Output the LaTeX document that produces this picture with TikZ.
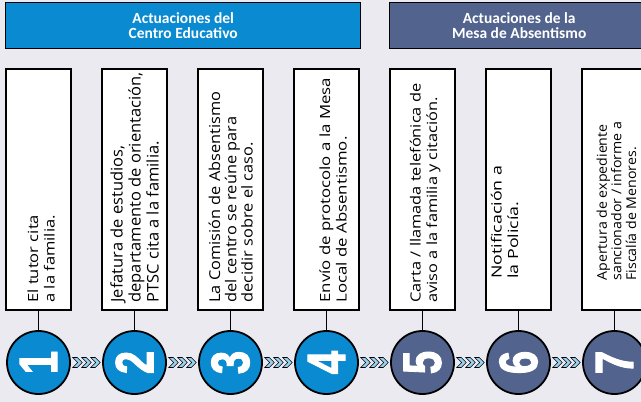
\documentclass[tikz,border=0pt]{standalone}
\usepackage{fontspec}
\usepackage{graphicx}
\setmainfont{Open Sans}
\newfontfamily\headfont{Carlito}
\newfontfamily\numfont{Liberation Sans Bold}[FakeBold=2]
\usetikzlibrary{positioning,calc}

\definecolor{ceblue}{HTML}{0A8AD0}
\definecolor{mesablue}{HTML}{52648E}
\definecolor{bggray}{HTML}{EBEAF0}
\definecolor{chevblue}{HTML}{9AD3F2}

\tikzset{
    chevs/.pic={
        \foreach \k in {-1,0,1}
            \filldraw[fill=chevblue, draw=black, line width=0.6pt]
                ({9*\k-4.75},-5) -- ++(4.5,0) -- ++(5,5) -- ++(-5,5) -- ++(-4.5,0) -- ++(5,-5) -- cycle;
    }
}
\newcommand{\stepnum}[1]{\rotatebox{90}{\scalebox{0.78}[1]{#1}}}
\newcommand{\steplines}[2]{\scalebox{#1}[1]{\begin{tabular}{@{}l@{}}#2\end{tabular}}}

\begin{document}
\begin{tikzpicture}[x=1pt,y=-1pt,
    header/.style={draw=black, line width=1.4pt, inner sep=0pt, minimum height=46pt, anchor=north west,
        text=white, align=center, font=\headfont\bfseries\fontsize{15.5}{15.5}\selectfont},
    stepbox/.style={draw=black, fill=white, line width=1.4pt, minimum width=65pt, minimum height=241pt, inner sep=0pt},
    steptext/.style={rotate=90, anchor=west, inner sep=0pt, font=\fontsize{14}{16.5}\selectfont},
    stepcirc/.style={circle, draw=black, line width=1.8pt, minimum size=63pt, inner sep=0pt, text=white, font=\numfont\fontsize{54}{54}\selectfont},
    link/.style={draw=black, line width=1.4pt}]

    \fill[bggray] (0,0) rectangle (641,402);
    \useasboundingbox (0,0) rectangle (641,402);
    \clip (0,0) rectangle (641,402);

    % headers
    \node[header, fill=ceblue, minimum width=355pt] (centro) at (5,2) {Actuaciones del\\Centro Educativo};
    \node[header, fill=mesablue, minimum width=259pt] (mesa) at (389,2) {Actuaciones de la\\Mesa de Absentismo};

    % step boxes
    \node[stepbox] (box1) at (38.5,189.5) {};
    \node[stepbox] (box2) at (134.5,189.5) {};
    \node[stepbox] (box3) at (230.5,189.5) {};
    \node[stepbox] (box4) at (326.5,189.5) {};
    \node[stepbox] (box5) at (422.5,189.5) {};
    \node[stepbox] (box6) at (518.5,189.5) {};
    \node[stepbox] (box7) at (614.5,189.5) {};

    % texts
    \node[steptext] (txt1) at ($(box1.south)+(4.5,-8)$) {\steplines{1.18}{El tutor cita\\a la familia.}};
    \node[steptext, font=\fontsize{16}{18}\selectfont] (txt2) at ($(box2.south)+(2.5,-8)$) {\steplines{1.03}{Jefatura de estudios,\\departamento de orientación,\\PTSC cita a la familia.}};
    \node[steptext, font=\fontsize{15}{16}\selectfont] (txt3) at ($(box3.south)+(2.5,-8)$) {\steplines{1.09}{La Comisión de Absentismo\\del centro se reúne para\\decidir sobre el caso.}};
    \node[steptext] (txt4) at ($(box4.south)+(8.5,-8)$) {\steplines{1.2}{Envío de protocolo a la Mesa\\Local de Absentismo.}};
    \node[steptext] (txt5) at ($(box5.south)+(3,-8)$) {\steplines{1.17}{Carta / llamada telefónica de\\aviso a la familia y citación.}};
    \node[steptext] (txt6) at ($(box6.south)+(-12,-32)$) {\steplines{1.27}{Notificación a\\la Policía.}};
    \node[steptext, font=\fontsize{13.5}{14.5}\selectfont] (txt7) at ($(box7.south)+(4,-30)$) {\steplines{1.05}{Apertura de expediente\\sancionador / informe a\\Fiscalía de Menores.}};

    % numbered circles
    \node[stepcirc, fill=ceblue] (num1) at (38.5,362.5) {\stepnum{1}};
    \node[stepcirc, fill=ceblue] (num2) at (134.5,362.5) {\stepnum{2}};
    \node[stepcirc, fill=ceblue] (num3) at (230.5,362.5) {\stepnum{3}};
    \node[stepcirc, fill=ceblue] (num4) at (326.5,362.5) {\stepnum{4}};
    \node[stepcirc, fill=mesablue] (num5) at (422.5,362.5) {\stepnum{5}};
    \node[stepcirc, fill=mesablue] (num6) at (518.5,362.5) {\stepnum{6}};
    \node[stepcirc, fill=mesablue] (num7) at (614.5,362.5) {\stepnum{7}};

    % links and chevrons
    \foreach \i in {1,...,7}
        \draw[link] (box\i.south) -- (num\i.north);
    \foreach \i/\j in {1/2,2/3,3/4,4/5,5/6,6/7}
        \pic at ($(num\i.east)!0.5!(num\j.west)$) {chevs};
\end{tikzpicture}
\end{document}
